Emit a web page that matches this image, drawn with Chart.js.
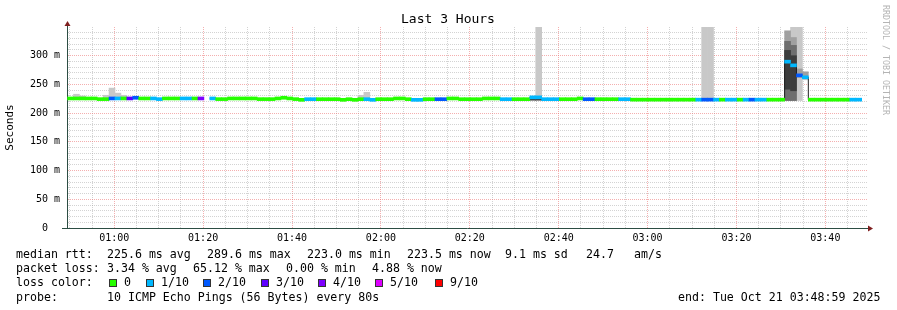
<!DOCTYPE html>
<html>
<head>
<meta charset="utf-8">
<title>Last 3 Hours</title>
<script src="https://cdn.jsdelivr.net/npm/chart.js@4.4.1/dist/chart.umd.min.js"></script>
<style>
  body { margin: 0; background: #fff; }
  #box { position: relative; width: 897px; height: 310px; font-family: "DejaVu Sans Mono", monospace; color: #000; overflow: hidden; }
  #chart { position: absolute; left: 0; top: 0; }
  .txt { position: absolute; white-space: pre; font-size: 11.6px; line-height: 14px; }
  #title { position: absolute; left: 0; top: 11px; width: 896px; text-align: center; font-size: 13px; line-height: 16px; }
  #mark { position: absolute; left: 881px; top: 5px; writing-mode: vertical-rl; font-size: 8.3px; line-height: 10px; color: #b4b4b4; }
  .sw { position: absolute; width: 8px; height: 8px; box-sizing: border-box; border: 1px solid #333; }
</style>
</head>
<body>
<div id="box">
  <canvas id="chart" width="897" height="310"></canvas>
  <div id="title">Last 3 Hours</div>
  <div id="mark">RRDTOOL / TOBI OETIKER</div>
  <div id="legend"></div>
</div>
<script>
// time axis in minutes after midnight, one step = 80 s ping round
const axisStart = 49.37;   // 00:49:22
const axisEnd = 229.37;    // 03:49:22
const firstStep = 49.5;
const stepMin = 80 / 60;

// median rtt per step (ms), null = no data
const median = [
  225.6, 225.6, 225.6, 225.6, 225.6, 224.4, 224.4, 225.6, 225.6, 225.6,
  225.6, 226.8, 225.6, 225.6, 225.6, 224.4, 225.6, 225.6, 225.6, 225.6,
  225.6, 225.6, 225.6, null, 225.6, 224.4, 224.4, 225.6, 225.6, 225.6,
  225.6, 225.6, 224.4, 224.4, 224.4, 225.6, 226.8, 225.6, 224.4, 223.2,
  224.3, 224.3, 224.3, 224.3, 224.3, 224.3, 223.2, 224.3, 223.2, 224.3,
  224.3, 223.2, 224.3, 224.3, 224.3, 225.6, 225.6, 224.3, 223.2, 223.2,
  224.3, 224.3, 224.3, 224.3, 225.6, 225.6, 224.3, 224.3, 224.3, 224.3,
  225.6, 225.6, 225.6, 224.3, 224.3, 224.3, 224.3, 224.3, 227.5, 227.5,
  224.3, 224.3, 224.3, 224.3, 224.3, 224.3, 225.6, 224.3, 224.3, 224.3,
  224.3, 224.3, 224.3, 224.3, 224.3, 223.5, 223.5, 223.5, 223.5, 223.5,
  223.5, 223.5, 223.5, 223.5, 223.5, 223.5, 223.5, 223.5, 223.5, 223.5,
  223.5, 223.5, 223.5, 223.5, 223.5, 223.5, 223.5, 223.5, 223.5, 223.5,
  223.5, 289.6, 283.2, 265.8, 262.4, 223.5, 223.5, 223.5, 223.5, 223.5,
  223.5, 223.5, 223.5, 223.5, null
];

// loss bucket per step (index into lossColors)
const loss = [
  0, 0, 0, 0, 0, 0, 0, 2, 1, 0,
  3, 2, 0, 0, 1, 1, 0, 0, 0, 1,
  1, 0, 4, null, 1, 0, 0, 0, 0, 0,
  0, 0, 0, 0, 0, 0, 0, 0, 0, 0,
  1, 1, 0, 0, 0, 0, 0, 0, 0, 0,
  1, 1, 0, 0, 0, 0, 0, 0, 1, 1,
  0, 0, 2, 2, 0, 0, 0, 0, 0, 0,
  0, 0, 0, 1, 1, 0, 0, 0, 1, 1,
  1, 1, 1, 0, 0, 0, 0, 2, 2, 0,
  0, 0, 0, 1, 1, 0, 0, 0, 0, 0,
  0, 0, 0, 0, 0, 0, 1, 2, 2, 1,
  0, 1, 1, 0, 1, 2, 1, 1, 0, 0,
  0, 1, 1, 2, 1, 0, 0, 0, 0, 0,
  0, 0, 1, 1, null
];

const lossLabels = ['0', '1/10', '2/10', '3/10', '4/10', '5/10', '9/10'];
const lossColors = ['#26ff00', '#00b8ff', '#0059ff', '#5e00ff', '#7e00ff', '#dd00ff', '#ff0000'];

// smoke (spread of the 10 pings), light to dark shades
const lightSteps = [1, 2, 6, 7, 8, 9, 49, 50, 79, 107, 108, 122, 123, 124];
const lightLow   = [225.6, 225.6, 224.4, 225.6, 225.6, 225.6, 224.3, 224.3, 227.5, 223.5, 223.5, 222, 222, 258];
const lightHigh  = [232.9, 229.9, 231.1, 243.6, 234.9, 231.1, 231.1, 236.2, 360, 360, 360, 360, 360, 262];

const mid1Steps = [121, 122, 123, 124];
const mid1Low   = [222, 222, 262, 262];
const mid1High  = [343.4, 331.7, 277, 272];

const mid2Steps = [121, 122];
const mid2Low   = [222, 222];
const mid2High  = [325, 318];

const darkSteps = [78, 79, 121, 122];
const darkLow   = [222.5, 222.5, 241.7, 239];
const darkHigh  = [226, 226, 309.3, 300];

const yTicks = [0, 10, 20, 30, 40, 50, 60, 70, 80, 90, 100, 110, 120, 130, 140, 150, 160, 170,
  180, 190, 200, 210, 220, 230, 240, 250, 260, 270, 280, 290, 300, 310, 320, 330, 340];
const xTicks = [50, 55, 60, 65, 70, 75, 80, 85, 90, 95, 100, 105, 110, 115, 120, 125, 130, 135,
  140, 145, 150, 155, 160, 165, 170, 175, 180, 185, 190, 195, 200, 205, 210, 215, 220, 225];

const bandHalf = 2.6;
const gridMinor = 'rgba(150,150,150,0.42)';
const gridMajor = 'rgba(235,110,110,0.55)';
const axisColor = '#2c4d43';
const arrowColor = '#7f1f1f';

function center(k) { return firstStep + (k + 0.5) * stepMin; }

function smoke(steps, low, high) {
  return steps.map((k, i) => ({ x: center(k), y: [low[i], high[i]] }));
}

function hhmm(v) {
  const h = Math.floor(v / 60), m = v % 60;
  return String(h).padStart(2, '0') + ':' + String(m).padStart(2, '0');
}

const medianBars = [];
median.forEach((m, k) => {
  if (m !== null) medianBars.push({ x: center(k), y: [m - bandHalf, m + bandHalf], loss: loss[k] });
});
const medianLine = median.map((m, k) => ({ x: firstStep + k * stepMin, y: m }));

const barBase = { type: 'bar', grouped: false, borderWidth: 0, categoryPercentage: 1, barPercentage: 1, clip: 0 };

const axisArrows = {
  id: 'axisArrows',
  afterDraw(chart) {
    const { ctx, chartArea: a } = chart;
    const x0 = Math.round(a.left) + 0.5, y0 = Math.round(a.bottom) + 0.5;
    ctx.save();
    ctx.strokeStyle = axisColor;
    ctx.lineWidth = 1;
    ctx.beginPath();
    ctx.moveTo(x0, a.top + 1); ctx.lineTo(x0, a.top - 3);
    ctx.moveTo(a.left - 5, y0); ctx.lineTo(a.left, y0);
    ctx.moveTo(a.right - 1, y0); ctx.lineTo(a.right + 2, y0);
    ctx.stroke();
    ctx.fillStyle = arrowColor;
    ctx.beginPath();
    ctx.moveTo(x0 - 3, a.top - 1); ctx.lineTo(x0 + 3, a.top - 1); ctx.lineTo(x0, a.top - 6);
    ctx.fill();
    ctx.beginPath();
    ctx.moveTo(a.right + 1, y0 - 3); ctx.lineTo(a.right + 1, y0 + 3); ctx.lineTo(a.right + 6, y0);
    ctx.fill();
    ctx.restore();
  }
};

Chart.defaults.font.family = '"DejaVu Sans Mono", monospace';

new Chart(document.getElementById('chart'), {
  data: {
    datasets: [
      { ...barBase, data: medianBars, order: 0, backgroundColor: c => lossColors[c.raw.loss] },
      { type: 'line', data: medianLine, order: 1, stepped: true, borderColor: '#202020', borderWidth: 1,
        pointRadius: 0, spanGaps: false, clip: 0 },
      { ...barBase, data: smoke(darkSteps, darkLow, darkHigh), order: 2, backgroundColor: '#3c3c3c' },
      { ...barBase, data: smoke(mid2Steps, mid2Low, mid2High), order: 3, backgroundColor: '#6e6e6e' },
      { ...barBase, data: smoke(mid1Steps, mid1Low, mid1High), order: 4, backgroundColor: '#a0a0a0' },
      { ...barBase, data: smoke(lightSteps, lightLow, lightHigh), order: 5, backgroundColor: '#c8c8c8' }
    ]
  },
  options: {
    responsive: false,
    animation: false,
    devicePixelRatio: 1,
    layout: { padding: { left: 0, top: 27, right: 30, bottom: 62 } },
    plugins: { legend: { display: false }, tooltip: { enabled: false }, title: { display: false } },
    scales: {
      x: {
        type: 'linear',
        offset: false,
        min: axisStart,
        max: axisEnd,
        afterBuildTicks: s => { s.ticks = xTicks.map(v => ({ value: v })); },
        afterFit: s => { s.height = 20; },
        grid: { offset: false, color: c => (c.tick && c.tick.value % 20 === 0 ? gridMajor : gridMinor), drawTicks: false },
        border: { color: axisColor, dash: [1, 1] },
        ticks: {
          autoSkip: false, maxRotation: 0, padding: 4, color: '#000',
          font: { size: 10 },
          callback: v => (v % 20 === 0 ? hhmm(v) : '')
        }
      },
      y: {
        min: 0,
        max: 350,
        afterBuildTicks: s => { s.ticks = yTicks.map(v => ({ value: v })); },
        afterFit: s => { s.width = 67; },
        grid: {
          color: c => (!c.tick || c.tick.value === 0 ? 'rgba(0,0,0,0)' : (c.tick.value % 50 === 0 ? gridMajor : gridMinor)),
          drawTicks: false
        },
        border: { color: axisColor, dash: [1, 1] },
        title: { display: true, text: 'Seconds', color: '#000', font: { size: 11 }, padding: { top: 4, bottom: 0 } },
        ticks: {
          autoSkip: false, padding: 7, color: '#000', font: { size: 10 },
          callback: v => (v % 50 !== 0 ? '' : (v === 0 ? '0  ' : v + ' m'))
        }
      }
    }
  },
  plugins: [axisArrows]
});

// legend text below the graph
const rows = [
  [[16, 'median rtt:'], [107, '225.6 ms avg'], [207, '289.6 ms max'], [307, '223.0 ms min'],
   [407, '223.5 ms now'], [505, '9.1 ms sd'], [586, '24.7'], [634, 'am/s']],
  [[16, 'packet loss:'], [107, '3.34 % avg'], [193, '65.12 % max'], [286, '0.00 % min'], [372, '4.88 % now']],
  [[16, 'loss color:']],
  [[16, 'probe:'], [107, '10 ICMP Echo Pings (56 Bytes) every 80s'], [678, 'end: Tue Oct 21 03:48:59 2025']]
];
const rowTop = [247, 261.2, 275.4, 289.6];
const swatchX = [109, 146, 203, 261, 318, 375, 435];
const legend = document.getElementById('legend');
rows.forEach((row, r) => {
  row.forEach(([x, text]) => {
    const d = document.createElement('div');
    d.className = 'txt';
    d.style.left = x + 'px';
    d.style.top = rowTop[r] + 'px';
    d.textContent = text;
    legend.appendChild(d);
  });
});
lossLabels.forEach((label, i) => {
  const sw = document.createElement('div');
  sw.className = 'sw';
  sw.style.left = swatchX[i] + 'px';
  sw.style.top = '279px';
  sw.style.background = lossColors[i];
  legend.appendChild(sw);
  const t = document.createElement('div');
  t.className = 'txt';
  t.style.left = (swatchX[i] + 15) + 'px';
  t.style.top = rowTop[2] + 'px';
  t.textContent = label;
  legend.appendChild(t);
});
</script>
</body>
</html>
